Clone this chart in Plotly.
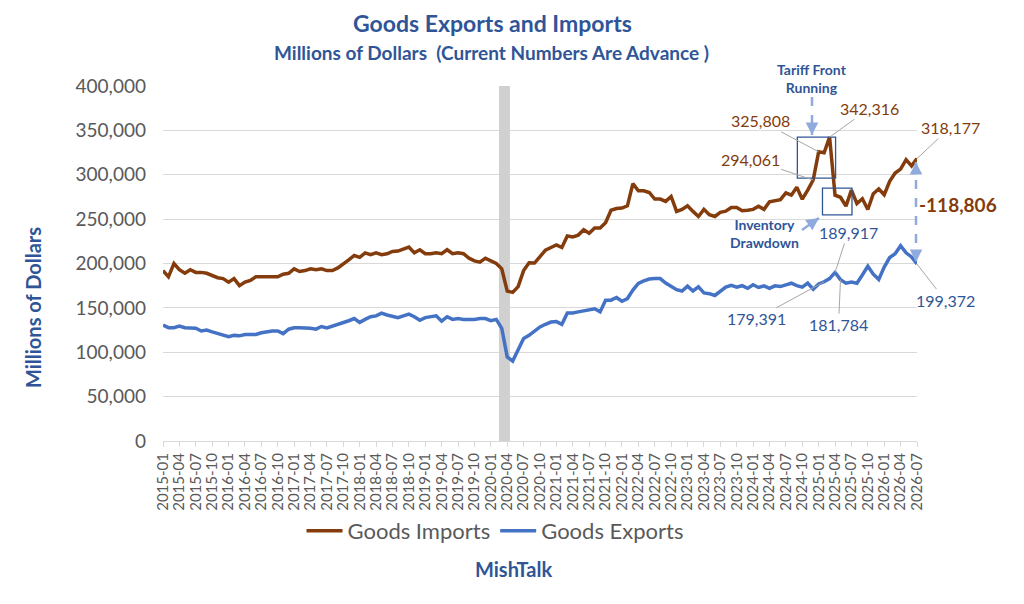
import pandas as pd
import plotly.graph_objects as go

months = [p.strftime("%Y-%m") for p in pd.period_range("2015-01", "2026-07", freq="M")]

# thousands of dollars (millions in the chart)
imports_k = [
    192, 185, 200, 193, 189, 193, 190, 190, 189, 186, 184, 183,
    179, 183, 175, 179, 181, 185, 185, 185, 185, 185, 188, 189,
    194, 191, 192, 194, 193, 194, 192, 192, 195, 199, 204, 209,
    207, 212, 210, 212, 210, 211, 213.6, 214, 216.7, 218.6, 212, 215.5,
    211, 211, 212, 211, 215.5, 211, 212, 211, 206, 203, 201.5, 206,
    203, 200, 194, 169, 167.5, 174, 192, 200.8, 200.5, 208, 215, 218,
    221, 218, 231, 230, 232, 238, 234, 240, 240, 246, 260, 262,
    262.5, 265, 290, 282, 282, 280, 272.6, 272.6, 270, 275.5, 258.7, 261,
    265, 258.7, 253, 261, 255, 253, 257.7, 259, 263, 263, 259.4, 260,
    261, 264.6, 261, 269.5, 271, 272, 279.6, 277, 286, 272.5, 282.6, 294.061,
    325.808, 324.7, 342.316, 277, 274.6, 264.6, 282.6, 267.6, 273, 260.9, 278.6, 284,
    277.5, 292.5, 302, 306.4, 317, 310, 318.177,
]
exports_k = [
    130.7, 127.7, 127.7, 129.5, 127.7, 127, 127, 124, 125, 123, 121, 119,
    117.5, 119, 118.5, 120, 120, 120, 122, 123, 124, 124, 121, 126,
    127.5, 127.5, 127.5, 127, 126, 129, 127.5, 129.5, 131, 132.5, 135.5, 138,
    133.7, 137, 140, 141, 144, 142, 140, 139, 141, 143, 140, 136,
    139, 140, 141, 135, 140, 137, 138, 137, 137, 137, 138, 138,
    135.6, 137, 127, 94.7, 90, 102, 115.5, 119, 124, 128.5, 131.5, 134,
    134.5, 131.5, 144.3, 144.3, 145.5, 146.6, 148, 149, 145.5, 158.7, 158.7, 161.7,
    157.5, 160.5, 170, 177.5, 180.5, 182.5, 183, 183, 178, 174.5, 170.5, 169,
    174.5, 169, 173.6, 166.8, 166, 164, 169, 173.5, 175.5, 173.3, 175, 172,
    176, 173, 174.8, 172, 174.8, 174, 176, 177.8, 175, 173.3, 177.8, 171,
    177, 179.391, 183, 189.917, 181.784, 177.8, 179, 177.8, 187, 197, 188, 182,
    196, 206.7, 211, 220, 212, 207.4, 199.372,
]
imports = [v * 1000 for v in imports_k]
exports = [v * 1000 for v in exports_k]

recession_months = ["2020-03", "2020-04"]
import_labels = {"2024-12": "294,061", "2025-01": "325,808", "2025-03": "342,316", "2026-07": "318,177"}
export_labels = {"2025-02": "179,391", "2025-04": "189,917", "2025-05": "181,784", "2026-07": "199,372"}

BROWN = "#843C0C"
BLUE = "#4472C4"
DARKBLUE = "#2F5597"
GRAY = "#595959"
ARROW = "#8FAADC"
FONT = "Lato"

# plot area in page pixels; the page body adds an 8px offset
OFF = 8
L, R, T, B = 163, 917, 86, 441


def px(x, y):
    return (x - L) / (R - L), (B - y) / (B - T)


fig = go.Figure()
fig.add_trace(go.Scatter(x=months, y=imports, name="Goods Imports", mode="lines",
                         line=dict(color=BROWN, width=3.5), cliponaxis=False))
fig.add_trace(go.Scatter(x=months, y=exports, name="Goods Exports", mode="lines",
                         line=dict(color=BLUE, width=3.5), cliponaxis=False))

# recession shading
i0 = months.index(recession_months[0]) - 0.5
i1 = months.index(recession_months[-1]) + 0.5
fig.add_shape(type="rect", xref="x", yref="y", x0=i0, x1=i1, y0=0, y1=400000,
              fillcolor="#D0D0D0", line=dict(width=0), layer="between")

# highlight boxes
fig.add_shape(type="rect", xref="x", yref="y", x0=116.1, x1=123.1, y0=296300, y1=342500,
              line=dict(color=DARKBLUE, width=1.3))
fig.add_shape(type="rect", xref="x", yref="y", x0=120.7, x1=126.1, y0=254700, y1=285000,
              line=dict(color=DARKBLUE, width=1.3))

ann = []


def text(x, y, s, size, color, bold=False, angle=0):
    xp, yp = px(x, y)
    ann.append(dict(x=xp, y=yp, xref="paper", yref="paper", text=f"<b>{s}</b>" if bold else s,
                    xanchor="center", yanchor="middle", textangle=angle,
                    showarrow=False, font=dict(family=FONT, size=size, color=color)))


text(492, 23, "Goods Exports and Imports", 23, DARKBLUE, True)
text(491, 53, "Millions of Dollars  (Current Numbers Are Advance )", 19, DARKBLUE, True)
text(513, 569, "MishTalk", 20, DARKBLUE, True)
text(812, 78, "Tariff Front<br>Running", 14, DARKBLUE, True)
text(764, 233, "Inventory<br>Drawdown", 14, DARKBLUE, True)
text(958, 204, "-118,806", 19, BROWN, True)
text(33, 308, "Millions of Dollars", 20, DARKBLUE, True, angle=-90)

# value labels with leader lines
offsets = {"2024-12": (-63, -21), "2025-01": (-58, -31), "2025-03": (40, -29), "2026-07": (33, -31)}
for m, s in import_labels.items():
    i = months.index(m)
    ax, ay = offsets[m]
    ann.append(dict(x=i, y=imports[i], xref="x", yref="y", text=s, ax=ax, ay=ay,
                    showarrow=True, arrowhead=0, arrowwidth=1, arrowcolor="#A6A6A6",
                    font=dict(family=FONT, size=16, color=BROWN)))
offsets = {"2025-02": (-68, 37), "2025-04": (13, -40), "2025-05": (-2, 45), "2026-07": (28, 36)}
for m, s in export_labels.items():
    i = months.index(m)
    ax, ay = offsets[m]
    ann.append(dict(x=i, y=exports[i], xref="x", yref="y", text=s, ax=ax, ay=ay,
                    showarrow=True, arrowhead=0, arrowwidth=1, arrowcolor="#A6A6A6",
                    font=dict(family=FONT, size=16, color=DARKBLUE)))


def dashed_arrow(x0, y0, x1, y1, both=False):
    a0, b0 = px(x0, y0)
    a1, b1 = px(x1, y1)
    fig.add_shape(type="line", xref="paper", yref="paper", x0=a0, y0=b0, x1=a1, y1=b1,
                  line=dict(color=ARROW, width=2.5, dash="dash"))
    ends = [(x1, y1, x0, y0)]
    if both:
        ends.append((x0, y0, x1, y1))
    for hx, hy, tx, ty in ends:
        dx, dy = tx - hx, ty - hy
        n = (dx * dx + dy * dy) ** 0.5
        a, b = px(hx, hy)
        ann.append(dict(x=a, y=b, xref="paper", yref="paper", text="", showarrow=True,
                        ax=dx / n * 9, ay=dy / n * 9, arrowhead=2, arrowsize=1,
                        arrowwidth=2.5, arrowcolor=ARROW))


dashed_arrow(812, 97, 812, 135)
dashed_arrow(802, 230, 819, 218)
dashed_arrow(916, 162, 916, 262, both=True)

fig.update_layout(
    width=1024, height=604,
    margin=dict(l=L - OFF, r=1024 - R + OFF, t=T - OFF, b=604 - B + OFF, autoexpand=False),
    plot_bgcolor="white", paper_bgcolor="white",
    font=dict(family=FONT, color=GRAY),
    annotations=ann,
    showlegend=True,
    legend=dict(orientation="h", x=px(495, 0)[0], xanchor="center", y=px(0, 531)[1], yanchor="middle",
                font=dict(size=22, color=GRAY), itemwidth=36),
)
fig.update_xaxes(type="category", range=[0, len(months) - 1], tickvals=months[::3],
                 tickangle=-90, tickfont=dict(size=15, color=GRAY), showgrid=False,
                 showline=True, linecolor="#D9D9D9", ticks="outside", ticklen=5, tickcolor="#D9D9D9")
fig.update_yaxes(range=[0, 400000], dtick=50000, tickformat=",", tickfont=dict(size=19, color=GRAY),
                 gridcolor="#D9D9D9", zeroline=False, ticklabelstandoff=16)

fig.write_html("out.html")
